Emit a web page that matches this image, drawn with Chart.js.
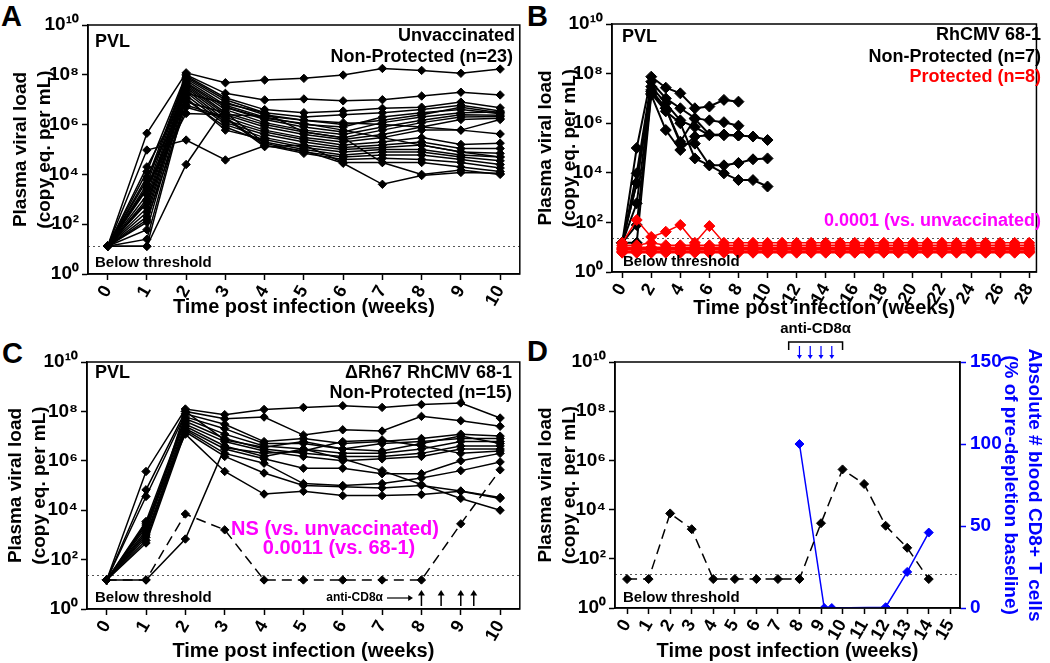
<!DOCTYPE html>
<html lang="en">
<head>
<meta charset="UTF-8" />
<title>Plasma viral load panels</title>
<script src="https://cdn.jsdelivr.net/npm/chart.js"></script>
<style>
  body { margin: 0; background: #fff; width: 1050px; height: 663px; position: relative; overflow: hidden; }
  canvas { position: absolute; }
  .letter { position: absolute; font: bold 29px "Liberation Sans", Arial, sans-serif; line-height: 1; }
</style>
</head>
<body>
<div class="letter" style="left:1px;top:2px">A</div>
<div class="letter" style="left:527px;top:2px">B</div>
<div class="letter" style="left:2px;top:339px">C</div>
<div class="letter" style="left:527px;top:337px">D</div>
<canvas id="chartA" width="525" height="330" style="left:0;top:0"></canvas>
<canvas id="chartB" width="525" height="330" style="left:525px;top:0"></canvas>
<canvas id="chartC" width="525" height="333" style="left:0;top:330px"></canvas>
<canvas id="chartD" width="525" height="348" style="left:525px;top:315px"></canvas>
<script>
// ---- data ----
const yTickValues = [1, 1e2, 1e4, 1e6, 1e8, 1e10];
const yTickLabels = ['10\u2070', '10\u00b2', '10\u2074', '10\u2076', '10\u2078', '10\u00b9\u2070'];
const cd8TickValues = [0, 50, 100, 150];

const weeksA = [0, 1, 2, 3, 4, 5, 6, 7, 8, 9, 10];
const weeksB = [0, 1, 2, 3, 4, 5, 6, 7, 8, 9, 10, 11, 12, 13, 14, 15, 16, 17, 18, 19, 20, 21, 22, 23, 24, 25, 26, 27, 28];
const weeksD = [0, 1, 2, 3, 4, 5, 6, 7, 8, 9, 10, 11, 12, 13, 14];
const xTicksA = [0, 1, 2, 3, 4, 5, 6, 7, 8, 9, 10];
const xTicksB = [0, 2, 4, 6, 8, 10, 12, 14, 16, 18, 20, 22, 24, 26, 28];
const xTicksD = [0, 1, 2, 3, 4, 5, 6, 7, 8, 9, 10, 11, 12, 13, 14, 15];

const thresholdA = 13;
const thresholdBCD = 24;

// A: unvaccinated, non-protected (n=23)
const vlUnvaccinated = [
  [13, 4.5e5, 1.2e8, 4.8e7, 6.2e7, 7.2e7, 9.8e7, 1.8e8, 1.5e8, 1.15e8, 1.7e8],
  [13, 9.5e4, 2.4e5, 3.8e4, 1.4e5, 9e4, 2.8e4, 4e3, 9e3, 1.2e4, 1.1e4],
  [13, 13, 2.5e4, 5e6, 1.8e6, 1.1e6, 6e5, 3e5, 1.5e5, 8e4, 5e4],
  [13, 1.3e4, 1e8, 1.8e7, 9.8e6, 1.07e7, 9e6, 1e7, 1.4e7, 2e7, 1.55e7],
  [13, 3e3, 2.8e6, 2.5e6, 2.2e6, 1.5e6, 1.2e6, 1e6, 8e5, 6e5, 4.2e5],
  [13, 6e3, 9e7, 1.2e7, 4e6, 3e6, 3.5e6, 4.5e6, 5e6, 8e6, 4.7e6],
  [13, 4e3, 8e7, 1e7, 3e6, 2e6, 2.5e6, 3e6, 4e6, 6e6, 3.5e6],
  [13, 2.5e3, 7e7, 8e6, 2.5e6, 1.5e6, 1e6, 1.5e6, 2.5e6, 5e6, 3e6],
  [13, 1.5e3, 6e7, 6e6, 2e6, 1e6, 8e5, 2e6, 3e6, 4e6, 2.7e6],
  [13, 1e3, 5e7, 5e6, 1.6e6, 8e5, 5e5, 1.2e6, 2e6, 3e6, 3.2e6],
  [13, 700, 4.5e7, 4e6, 1.2e6, 6e5, 4e5, 8e5, 1.5e6, 2.5e6, 2.4e6],
  [13, 450, 4e7, 3e6, 1e6, 5e5, 3e5, 6e5, 1.2e6, 2e6, 2.1e6],
  [13, 300, 3.5e7, 2.5e6, 8e5, 4e5, 2.5e5, 4e5, 8e5, 1.6e6, 1.8e6],
  [13, 200, 3e7, 2e6, 6e5, 3e5, 2e5, 3e5, 6e5, 6e5, 1.6e6],
  [13, 120, 2.5e7, 1.5e6, 5e5, 2.5e5, 1.5e5, 2e5, 3e5, 1.6e5, 1.8e5],
  [13, 60, 2e7, 1.2e6, 4e5, 2e5, 1.2e5, 1.5e5, 2e5, 1.1e5, 1.1e5],
  [13, 25, 1.5e7, 1e6, 3e5, 1.5e5, 1e5, 1.2e5, 1.5e5, 8e4, 7e4],
  [13, 13, 1.2e7, 6e5, 2.5e5, 1.2e5, 8e4, 1e5, 1e5, 6e4, 5e4],
  [13, 8e3, 1e7, 8e5, 2e5, 1e5, 6e4, 8e4, 8e4, 5e4, 3.5e4],
  [13, 3e3, 8e6, 3e6, 1.8e5, 8e4, 5e4, 6e4, 6e4, 4e4, 2.5e4],
  [13, 800, 6e6, 2e6, 1.5e5, 7e4, 4e4, 4.5e4, 4e4, 3e4, 1.8e4],
  [13, 150, 5e6, 1.8e6, 1.3e5, 1.5e5, 3e4, 3e4, 3e4, 2e4, 1.3e4],
  [13, 2e4, 1.8e7, 7e6, 3e6, 5e5, 3e5, 3e4, 1e4, 1.5e4, 1e4]
];

// B: RhCMV 68-1, non-protected (n=7), weeks 0-10
const vl681NonProtected = [
  [15, 1e5, 7.5e7, 2.7e7, 1.6e7, 4e6, 4.7e6, 8.7e6, 7.4e6, null, null],
  [15, 9.5e3, 4.7e7, 1e7, 4e6, 1.6e6, 1.3e6, 1.1e6, 7.9e5, null, null],
  [15, 3.8e3, 3e7, 6.3e6, 1.3e6, 7e5, 3.3e5, 3.3e5, 3.2e5, 2.9e5, 2.1e5],
  [15, 590, 1.9e7, 4e6, 1.8e5, 1.5e6, 3.5e5, 3.4e5, 3.3e5, null, null],
  [15, 15, 1.4e7, 5.3e5, 8.3e4, 2.9e5, 3.3e5, 3.5e5, 3.2e5, null, null],
  [15, 4e3, 2.2e7, 4e6, 1.5e5, 1.5e5, 2e4, 2e4, 2.5e4, 3.5e4, 3.8e4],
  [15, 79, 1.6e7, 3e6, 1e6, 3.8e4, 2e4, 9.5e3, 5.1e3, 5.1e3, 2.8e3]
];
// B: RhCMV 68-1, protected (n=8), weeks 0-28
const vl681Protected = [
  [15, 125, 26, 42, 79, 15, 71, 15, 15, 15, 15, 15, 15, 15, 15, 15, 15, 15, 15, 15, 15, 15, 15, 15, 15, 15, 15, 15, 15],
  [12, 12, 15, 12, 12, 12, 12, 12, 12, 12, 12, 12, 12, 12, 12, 12, 12, 12, 12, 12, 12, 12, 12, 12, 12, 12, 12, 12, 12],
  [10, 10, 10, 10, 10, 10, 10, 10, 10, 10, 10, 10, 10, 10, 10, 10, 10, 10, 10, 10, 10, 10, 10, 10, 10, 10, 10, 10, 10],
  [9, 9, 9, 9, 9, 9, 9, 9, 9, 9, 9, 9, 9, 9, 9, 9, 9, 9, 9, 9, 9, 9, 9, 9, 9, 9, 9, 9, 9],
  [8, 8, 8, 8, 8, 8, 8, 8, 8, 8, 8, 8, 8, 8, 8, 8, 8, 8, 8, 8, 8, 8, 8, 8, 8, 8, 8, 8, 8],
  [7, 7, 7, 7, 7, 7, 7, 7, 7, 7, 7, 7, 7, 7, 7, 7, 7, 7, 7, 7, 7, 7, 7, 7, 7, 7, 7, 7, 7],
  [6.5, 6.5, 6.5, 6.5, 6.5, 6.5, 6.5, 6.5, 6.5, 6.5, 6.5, 6.5, 6.5, 6.5, 6.5, 6.5, 6.5, 6.5, 6.5, 6.5, 6.5, 6.5, 6.5, 6.5, 6.5, 6.5, 6.5, 6.5, 6.5],
  [6, 6, 6, 6, 6, 6, 6, 6, 6, 6, 6, 6, 6, 6, 6, 6, 6, 6, 6, 6, 6, 6, 6, 6, 6, 6, 6, 6, 6]
];

// C: dRh67 RhCMV 68-1, non-protected (n=15)
const vlDeltaRh67 = [
  [15, 3.7e5, 1.25e8, 7.4e7, 1.2e8, 1.45e8, 1.7e8, 1.45e8, 1.9e8, 2.2e8, 5.4e7],
  [15, 6.7e4, 1e8, 5e7, 5.9e7, 1.1e7, 1.8e7, 1.6e7, 6.3e7, 4.2e7, 2.5e7],
  [15, 3.6e4, 8e7, 3e7, 6e6, 8e6, 5e6, 6e6, 8e6, 1.2e7, 1e7],
  [15, 3.5e3, 6e7, 2e7, 5e6, 5e6, 3e6, 5e6, 6e6, 8e6, 8e6],
  [15, 2.5e3, 5e7, 1.2e7, 4e6, 3e6, 2e6, 2e6, 3e6, 6e6, 6e6],
  [15, 2e3, 4e7, 8e6, 3e6, 2e6, 1.5e6, 1.5e6, 2e6, 4e6, 4e6],
  [15, 1.5e3, 3e7, 6e6, 2.5e6, 1.5e6, 1e6, 1.2e6, 1.5e6, 3e6, 3e6],
  [15, 1e3, 2.5e7, 4e6, 1.5e6, 3e6, 1.2e6, 4e5, 1.1e5, 3e4, 1e4],
  [15, 800, 2e7, 3e6, 1.2e6, 5e5, 5e5, 3e5, 3e5, 1e6, 2e6],
  [15, 600, 1.8e7, 2e6, 8e5, 1.2e5, 1e5, 1.2e5, 2e5, 4e5, 9e5],
  [15, 470, 1.5e7, 1.5e6, 3.2e5, 1e5, 9e4, 8e4, 1e5, 6e4, 3.3e4],
  [15, 3e3, 1.2e7, 3.7e5, 4.5e4, 5.8e4, 3.9e4, 3.9e4, 4.3e4, 5.8e4, 3e4],
  [15, 15, 680, 3.4e6, 2e6, 2.5e6, 6e6, 7e6, 4e6, 2e6, 2.5e6],
  [15, 1.2e3, 1e8, 7e6, 3.5e6, 6e6, 3e6, 2.5e6, 5e6, 1e7, 5e6]
];
// the animal depleted of CD8 cells (dashed in C and D)
const vlDepleted = [15, 15, 7e3, 1.6e3, 15, 15, 15, 15, 15, 2.8e3, 4.3e5, 1.1e5, 2.2e3, 280, 15];

// D: CD8+ T cells, % of pre-depletion baseline
const cd8Weeks = [8, 9.15, 9.5, 12, 13, 14];
const cd8Percent = [100, 0, 0, 0.5, 22, 46];
const cd8DosesC = [8, 8.5, 9, 9.33];
const cd8DosesD = [8, 8.5, 9, 9.5];
const cd8BracketD = [7.5, 10];

// ---- helpers ----
const FONT = '"Liberation Sans", Arial, sans-serif';
Chart.defaults.font.family = FONT;
Chart.defaults.font.weight = 'bold';
Chart.defaults.color = '#000';

function pts(weeks, vals) {
  return weeks.map((w, i) => ({ x: w, y: vals[i] })).filter(p => p.y !== null && p.y !== undefined);
}

function lineSet(weeks, vals, color, r, extra) {
  return Object.assign({
    data: pts(weeks, vals),
    borderColor: color,
    backgroundColor: color,
    pointBackgroundColor: color,
    pointBorderColor: color,
    pointStyle: 'rectRot',
    pointRadius: r,
    pointBorderWidth: 1,
    borderWidth: 1.5,
    tension: 0,
    yAxisID: 'y'
  }, extra || {});
}

function yAxis(width, titlePad) {
  return {
    type: 'logarithmic', position: 'left', min: 1, max: 1e10,
    afterBuildTicks: s => { s.ticks = yTickValues.map(v => ({ value: v })); },
    afterFit: s => { s.width = width; },
    ticks: { callback: (v, i) => yTickLabels[i], font: { size: 19, weight: 'bold' }, color: '#000', padding: 3, autoSkip: false },
    grid: { drawOnChartArea: false, color: '#000', tickLength: 6, tickWidth: 1.5 },
    border: { color: '#000', width: 1.5 },
    title: {
      display: true, text: ['Plasma viral load', '(copy eq. per mL)'],
      font: { size: 19, weight: 'bold', lineHeight: 1.3 }, color: '#000',
      padding: { top: titlePad, bottom: 0 }
    }
  };
}

function xAxis(min, max, tickVals, height, titlePad) {
  return {
    type: 'linear', min: min, max: max,
    afterBuildTicks: s => { s.ticks = tickVals.map(v => ({ value: v })); },
    afterFit: s => { s.height = height; },
    ticks: { minRotation: 60, maxRotation: 60, autoSkip: false, font: { size: 18, weight: 'bold' }, color: '#000', padding: 2 },
    grid: { drawOnChartArea: false, color: '#000', tickLength: 6, tickWidth: 1.5 },
    border: { color: '#000', width: 1.5 },
    title: {
      display: true, text: 'Time post infection (weeks)',
      font: { size: 20, weight: 'bold', lineHeight: 1.2 }, color: '#000',
      padding: { top: 0, bottom: titlePad }
    }
  };
}

function arrow(ctx, x0, y0, x1, y1, color, lw, head) {
  ctx.save();
  ctx.strokeStyle = color; ctx.fillStyle = color; ctx.lineWidth = lw; ctx.setLineDash([]);
  const ang = Math.atan2(y1 - y0, x1 - x0);
  ctx.beginPath(); ctx.moveTo(x0, y0);
  ctx.lineTo(x1 - Math.cos(ang) * head, y1 - Math.sin(ang) * head); ctx.stroke();
  ctx.beginPath(); ctx.moveTo(x1, y1);
  ctx.lineTo(x1 - Math.cos(ang) * head * 1.6 - Math.sin(ang) * head, y1 - Math.sin(ang) * head * 1.6 + Math.cos(ang) * head);
  ctx.lineTo(x1 - Math.cos(ang) * head * 1.6 + Math.sin(ang) * head, y1 - Math.sin(ang) * head * 1.6 - Math.cos(ang) * head);
  ctx.closePath(); ctx.fill();
  ctx.restore();
}

function decor(threshold, texts, extra) {
  return {
    id: 'decor',
    beforeDatasetsDraw(chart) {
      const { ctx, chartArea: a, scales } = chart;
      const ty = Math.round(scales.y.getPixelForValue(threshold)) + 0.5;
      ctx.save();
      ctx.setLineDash([2, 3]); ctx.strokeStyle = '#555'; ctx.lineWidth = 1;
      ctx.beginPath(); ctx.moveTo(a.left, ty); ctx.lineTo(a.right, ty); ctx.stroke();
      ctx.restore();
    },
    afterDraw(chart) {
      const { ctx, chartArea: a } = chart;
      ctx.save();
      ctx.strokeStyle = '#000'; ctx.lineWidth = 1.5; ctx.setLineDash([]);
      ctx.strokeRect(a.left, a.top, a.right - a.left, a.bottom - a.top);
      texts.forEach(t => {
        ctx.font = 'bold ' + (t.size || 18) + 'px ' + FONT;
        ctx.fillStyle = t.color || '#000';
        ctx.textAlign = t.align || 'left';
        ctx.textBaseline = 'middle';
        ctx.fillText(t.text, t.x, t.y);
      });
      if (extra) extra(chart);
      ctx.restore();
    }
  };
}

function baseOptions(scales, padding) {
  return {
    responsive: false, animation: false,
    layout: { padding: padding },
    plugins: { legend: { display: false }, tooltip: { enabled: false } },
    scales: scales
  };
}

// ---- panel A ----
new Chart(document.getElementById('chartA'), {
  type: 'line',
  data: { datasets: vlUnvaccinated.map(s => lineSet(weeksA, s, '#000', 4.2)) },
  options: baseOptions({ x: xAxis(-0.5, 10.5, xTicksA, 56, 11), y: yAxis(88, 8) }, { top: 25, right: 5, left: 0, bottom: 0 }),
  plugins: [decor(thresholdA, [
    { text: 'PVL', x: 95, y: 42 },
    { text: 'Unvaccinated', x: 515, y: 36, align: 'right' },
    { text: 'Non-Protected (n=23)', x: 513, y: 57, align: 'right' },
    { text: 'Below threshold', x: 95, y: 263, size: 15 }
  ])]
});

// ---- panel B ----
new Chart(document.getElementById('chartB'), {
  type: 'line',
  data: {
    datasets: vl681Protected.map(s => lineSet(weeksB, s, '#ff0000', 5.5))
      .concat(vl681NonProtected.map(s => lineSet(weeksA, s, '#000', 5.5, { borderWidth: 2 })))
  },
  options: baseOptions({ x: xAxis(-0.7, 28.5, xTicksB, 58, 10), y: yAxis(87, 8) }, { top: 24, right: 5, left: 0, bottom: 0 }),
  plugins: [decor(thresholdBCD, [
    { text: 'PVL', x: 97, y: 37 },
    { text: 'RhCMV 68-1', x: 516, y: 35, align: 'right' },
    { text: 'Non-Protected (n=7)', x: 516, y: 57, align: 'right' },
    { text: 'Protected (n=8)', x: 516, y: 77, align: 'right', color: '#ff0000' },
    { text: '0.0001 (vs. unvaccinated)', x: 516, y: 221, align: 'right', color: '#ff00ff' },
    { text: 'Below threshold', x: 98, y: 262, size: 15 }
  ])]
});

// ---- panel C ----
new Chart(document.getElementById('chartC'), {
  type: 'line',
  data: {
    datasets: vlDeltaRh67.map(s => lineSet(weeksA, s, '#000', 4.2))
      .concat([lineSet(weeksA, vlDepleted.slice(0, 11), '#000', 4.2, { borderDash: [10, 6] })])
  },
  options: baseOptions({ x: xAxis(-0.5, 10.5, xTicksA, 54, 0), y: yAxis(87, 3) }, { top: 32, right: 5, left: 0, bottom: 0 }),
  plugins: [decor(thresholdBCD, [
    { text: 'PVL', x: 95, y: 43 },
    { text: '\u0394Rh67 RhCMV 68-1', x: 512, y: 43, align: 'right' },
    { text: 'Non-Protected (n=15)', x: 512, y: 63, align: 'right' },
    { text: 'NS (vs. unvaccinated)', x: 335, y: 199, align: 'center', color: '#ff00ff', size: 20 },
    { text: '0.0011 (vs. 68-1)', x: 339, y: 218, align: 'center', color: '#ff00ff', size: 20 },
    { text: 'Below threshold', x: 95, y: 268, size: 15 },
    { text: 'anti-CD8\u03b1', x: 383, y: 268, align: 'right', size: 12 }
  ], chart => {
    const ctx = chart.ctx, xs = chart.scales.x;
    arrow(ctx, 387, 268, 413, 268, '#000', 1.2, 3);
    cd8DosesC.forEach(w => {
      const px = xs.getPixelForValue(w);
      arrow(ctx, px, 276, px, 260, '#000', 1.5, 3.5);
    });
  })]
});

// ---- panel D ----
new Chart(document.getElementById('chartD'), {
  type: 'line',
  data: {
    datasets: [
      lineSet(weeksD, vlDepleted, '#000', 4.5, { borderDash: [10, 6] }),
      lineSet(cd8Weeks, cd8Percent, '#0000ff', 4.5, { yAxisID: 'y1', borderWidth: 1.5 })
    ]
  },
  options: baseOptions({
    x: xAxis(-0.56, 15.45, xTicksD, 55, 0),
    y: yAxis(90, 8),
    y1: {
      type: 'linear', position: 'right', min: 0, max: 150,
      afterBuildTicks: s => { s.ticks = cd8TickValues.map(v => ({ value: v })); },
      afterFit: s => { s.width = 90; },
      ticks: { font: { size: 19, weight: 'bold' }, color: '#0000ff', padding: 4, autoSkip: false },
      grid: { drawOnChartArea: false, color: '#0000ff', tickLength: 6, tickWidth: 1.5 },
      border: { color: '#000', width: 1.5 },
      title: {
        display: true, text: ['Absolute # blood CD8+ T cells', '(% of pre-depletion baseline)'],
        font: { size: 19, weight: 'bold', lineHeight: 1.3 }, color: '#0000ff',
        padding: { top: 3, bottom: 0 }
      }
    }
  }, { top: 47, right: 0, left: 0, bottom: 0 }),
  plugins: [decor(thresholdBCD, [
    { text: 'Below threshold', x: 98, y: 283, size: 15 }
  ], chart => {
    const ctx = chart.ctx, xs = chart.scales.x;
    const x0 = xs.getPixelForValue(cd8BracketD[0]), x1 = xs.getPixelForValue(cd8BracketD[1]);
    ctx.strokeStyle = '#000'; ctx.lineWidth = 1.5; ctx.setLineDash([]);
    ctx.beginPath(); ctx.moveTo(x0, 35); ctx.lineTo(x0, 27); ctx.lineTo(x1, 27); ctx.lineTo(x1, 35); ctx.stroke();
    ctx.font = 'bold 15px ' + FONT; ctx.fillStyle = '#000'; ctx.textAlign = 'center'; ctx.textBaseline = 'middle';
    ctx.fillText('anti-CD8\u03b1', (x0 + x1) / 2, 14);
    cd8DosesD.forEach(w => {
      const px = xs.getPixelForValue(w);
      arrow(ctx, px, 31, px, 44, '#0000ff', 1.2, 2.5);
    });
  })]
});
</script>
</body>
</html>
